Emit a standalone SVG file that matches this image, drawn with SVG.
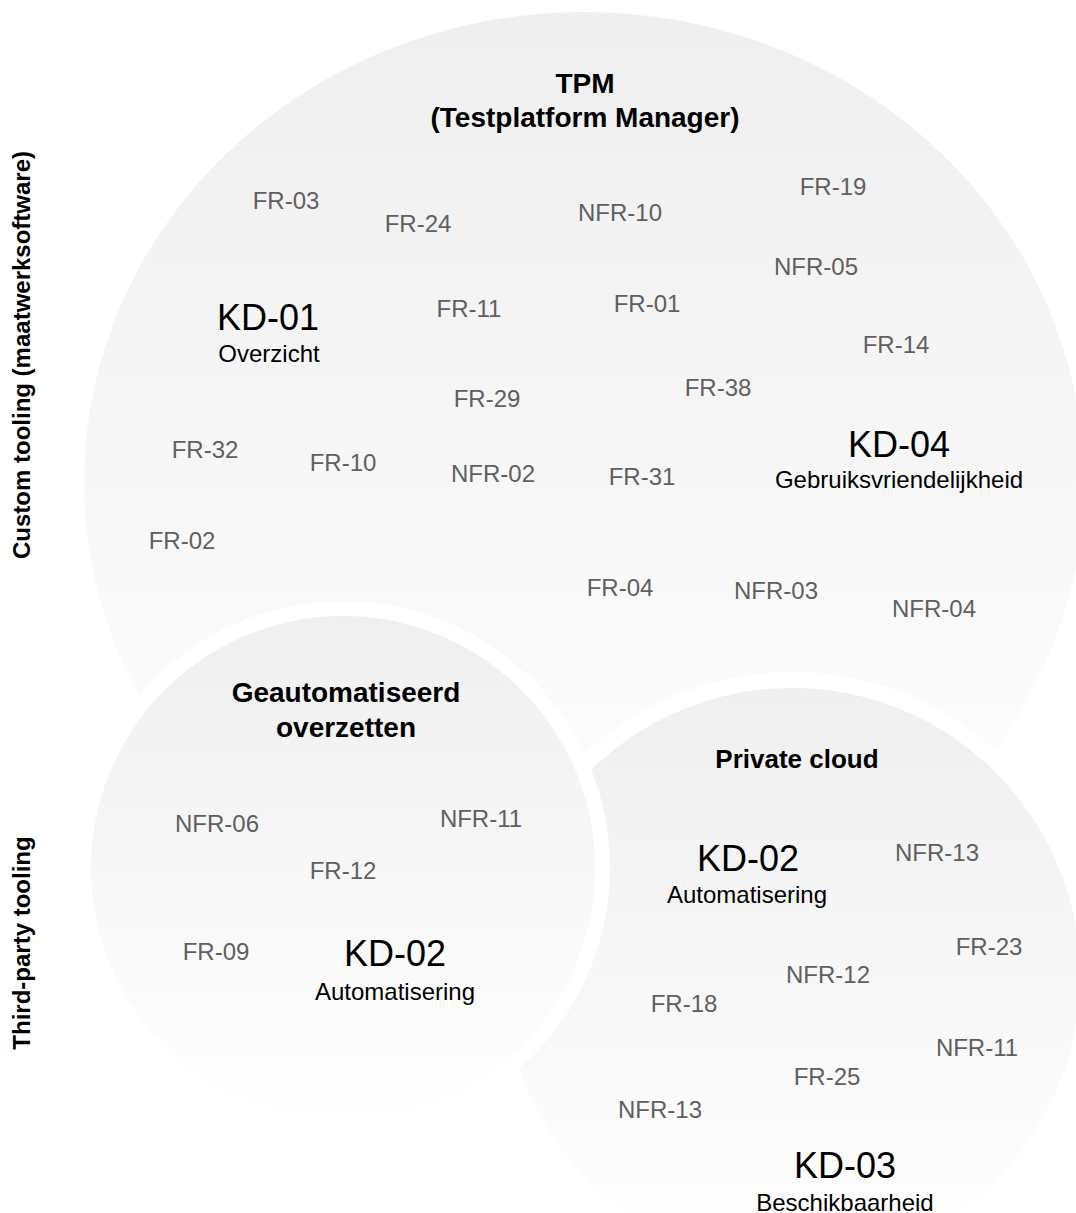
<svg xmlns="http://www.w3.org/2000/svg" width="1076" height="1213" viewBox="0 0 1076 1213">
  <defs>
    <linearGradient id="fade" x1="0" y1="0" x2="0" y2="1">
      <stop offset="0" stop-color="#efefef"/>
      <stop offset="1" stop-color="#ffffff"/>
    </linearGradient>
  </defs>
  <style>
    text { font-family: "Liberation Sans", Arial, Helvetica, sans-serif; text-anchor: middle; }
    .area { fill: url(#fade); }
    .ring { stroke: #ffffff; stroke-width: 15; }
    .title { font-size: 28px; font-weight: bold; fill: #000000; }
    .axis { font-size: 24px; font-weight: bold; fill: #000000; }
    .req { font-size: 24px; fill: #5f5f5f; }
    .kd { font-size: 36px; fill: #000000; }
    .kdsub { font-size: 24px; fill: #000000; }
  </style>

  <rect width="1076" height="1213" fill="#ffffff"/>

  <!-- side labels -->
  <g id="axis-custom">
    <text class="axis" transform="translate(30,355) rotate(-90)">Custom tooling (maatwerksoftware)</text>
  </g>
  <g id="axis-thirdparty">
    <text class="axis" transform="translate(30,943) rotate(-90)">Third-party tooling</text>
  </g>

  <!-- TPM area -->
  <g id="tpm">
    <ellipse class="area" cx="584" cy="482" rx="500" ry="470"/>
    <text class="title" x="585" y="93">TPM</text>
    <text class="title" x="585" y="127">(Testplatform Manager)</text>
    <g id="tpm-reqs">
      <text class="req" x="286" y="209">FR-03</text>
      <text class="req" x="418" y="232">FR-24</text>
      <text class="req" x="620" y="221">NFR-10</text>
      <text class="req" x="833" y="195">FR-19</text>
      <text class="req" x="816" y="275">NFR-05</text>
      <text class="req" x="469" y="317">FR-11</text>
      <text class="req" x="647" y="312">FR-01</text>
      <text class="req" x="896" y="353">FR-14</text>
      <text class="req" x="718" y="396">FR-38</text>
      <text class="req" x="487" y="407">FR-29</text>
      <text class="req" x="205" y="458">FR-32</text>
      <text class="req" x="343" y="471">FR-10</text>
      <text class="req" x="493" y="482">NFR-02</text>
      <text class="req" x="642" y="485">FR-31</text>
      <text class="req" x="182" y="549">FR-02</text>
      <text class="req" x="620" y="596">FR-04</text>
      <text class="req" x="776" y="599">NFR-03</text>
      <text class="req" x="934" y="617">NFR-04</text>
    </g>
    <g id="tpm-kd01">
      <text class="kd" x="268" y="330">KD-01</text>
      <text class="kdsub" x="269" y="362">Overzicht</text>
    </g>
    <g id="tpm-kd04">
      <text class="kd" x="899" y="457">KD-04</text>
      <text class="kdsub" x="899" y="488">Gebruiksvriendelijkheid</text>
    </g>
  </g>

  <!-- Private cloud area -->
  <g id="private-cloud">
    <circle class="area ring" cx="792" cy="976" r="296" style="stroke-width:16"/>
    <text class="title" x="797" y="768" style="font-size:26px">Private cloud</text>
    <g id="cloud-reqs">
      <text class="req" x="937" y="861">NFR-13</text>
      <text class="req" x="989" y="955">FR-23</text>
      <text class="req" x="828" y="983">NFR-12</text>
      <text class="req" x="684" y="1012">FR-18</text>
      <text class="req" x="977" y="1056">NFR-11</text>
      <text class="req" x="827" y="1085">FR-25</text>
      <text class="req" x="660" y="1118">NFR-13</text>
    </g>
    <g id="cloud-kd02">
      <text class="kd" x="748" y="871">KD-02</text>
      <text class="kdsub" x="747" y="903">Automatisering</text>
    </g>
    <g id="cloud-kd03">
      <text class="kd" x="845" y="1178">KD-03</text>
      <text class="kdsub" x="845" y="1211">Beschikbaarheid</text>
    </g>
  </g>

  <!-- automated migration area -->
  <g id="migration">
    <circle class="area ring" cx="343" cy="868" r="259.5"/>
    <text class="title" x="346" y="702">Geautomatiseerd</text>
    <text class="title" x="346" y="737">overzetten</text>
    <g id="migration-reqs">
      <text class="req" x="217" y="832">NFR-06</text>
      <text class="req" x="481" y="827">NFR-11</text>
      <text class="req" x="343" y="879">FR-12</text>
      <text class="req" x="216" y="960">FR-09</text>
    </g>
    <g id="migration-kd02">
      <text class="kd" x="395" y="966">KD-02</text>
      <text class="kdsub" x="395" y="1000">Automatisering</text>
    </g>
  </g>

  <g id="connectors"/>
</svg>
